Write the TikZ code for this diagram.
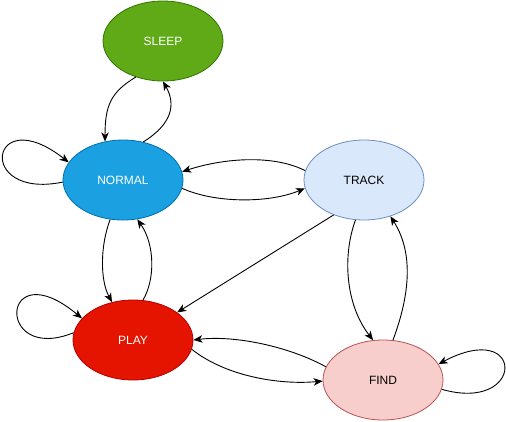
\documentclass[tikz,border=0pt]{standalone}
\usepackage{fontspec}
\setmainfont{Liberation Sans}
\usetikzlibrary{shapes.geometric,arrows.meta}
\definecolor{sleepfill}{HTML}{60A917}
\definecolor{sleepdraw}{HTML}{2D7600}
\definecolor{normalfill}{HTML}{1BA1E2}
\definecolor{normaldraw}{HTML}{006EAF}
\definecolor{trackfill}{HTML}{DAE8FC}
\definecolor{trackdraw}{HTML}{6C8EBF}
\definecolor{playfill}{HTML}{E51400}
\definecolor{playdraw}{HTML}{B20000}
\definecolor{findfill}{HTML}{F8CECC}
\definecolor{finddraw}{HTML}{B85450}
\begin{document}
\begin{tikzpicture}[x=1pt,y=-1pt,
  state/.style={ellipse, minimum width=120pt, minimum height=80pt, inner sep=0pt,
    line width=0.8pt, font=\fontsize{12}{14}\selectfont},
  edge/.style={line width=0.9pt, draw=black, -{Stealth[length=9pt,width=7.5pt,inset=2.5pt]}}]
\useasboundingbox (0,0) rectangle (506,421);
\node[state, fill=sleepfill, draw=sleepdraw, text=white] (sleep) at (163,41) {SLEEP};
\node[state, fill=normalfill, draw=normaldraw, text=white] (normal) at (123,180) {NORMAL};
\node[state, fill=trackfill, draw=trackdraw] (track) at (364,180) {TRACK};
\node[state, fill=playfill, draw=playdraw, text=white] (play) at (133,340) {PLAY};
\node[state, fill=findfill, draw=finddraw] (find) at (383,380) {FIND};
% SLEEP <-> NORMAL
\draw[edge] (sleep.233) .. controls +(-25,15) and +(0,-36) .. (normal.115);
\draw[edge] (normal.62) .. controls +(29,-18) and +(13,23) .. (sleep.270);
% NORMAL self loop
\draw[edge] (normal.182) .. controls +(-88,18) and +(-79,-62) .. (normal.162);
% NORMAL <-> TRACK
\draw[edge] (track.171) .. controls +(-31,-16) and +(43,-14) .. (normal.8);
\draw[edge] (normal.352) .. controls +(33,15) and +(-36,15) .. (track.188);
% NORMAL <-> PLAY
\draw[edge] (normal.252) .. controls +(-10,26) and +(-12,-22) .. (play.119);
\draw[edge] (play.76) .. controls +(12,-20) and +(18,26) .. (normal.290);
% PLAY self loop
\draw[edge] (play.173) .. controls +(-79,32) and +(-82,-68) .. (play.157);
% TRACK -> PLAY
\draw[edge] (track.229) -- (play.32);
% FIND <-> PLAY
\draw[edge] (find.167) .. controls +(-36,-20) and +(42,-5) .. (play.0);
\draw[edge] (play.351) .. controls +(34,27) and +(-43,4) .. (find.181);
% TRACK <-> FIND
\draw[edge] (track.258) .. controls +(-13,35) and +(-28,-36) .. (find.104);
\draw[edge] (find.76) .. controls +(15,-40) and +(25,39) .. (track.306);
% FIND self loop
\draw[edge] (find.351) .. controls +(84,24) and +(87,-46) .. (find.16);
\end{tikzpicture}
\end{document}
